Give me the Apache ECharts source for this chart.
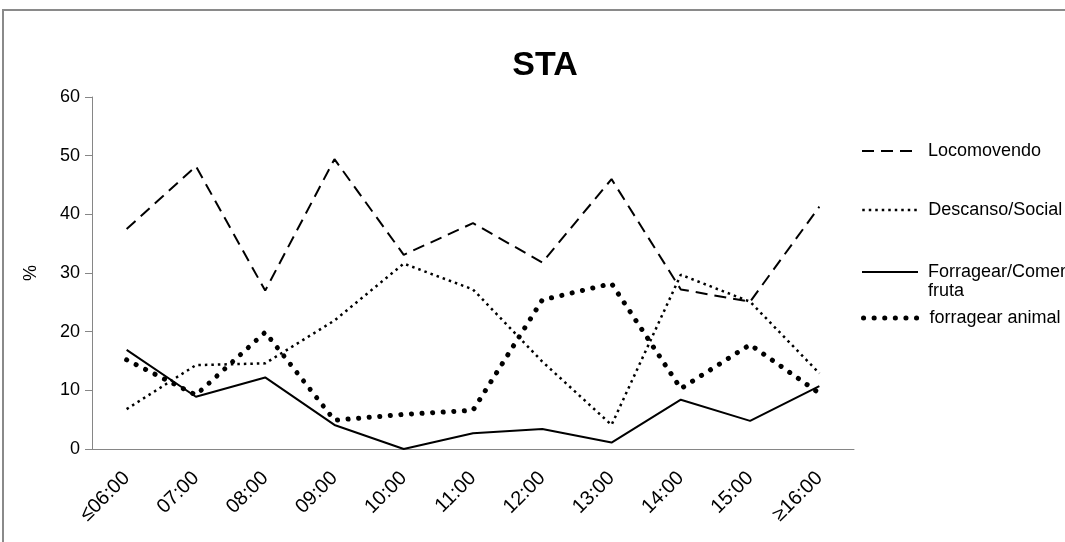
<!DOCTYPE html>
<html>
<head>
<meta charset="utf-8">
<script src="https://cdn.jsdelivr.net/npm/echarts@6/dist/echarts.min.js"></script>
<style>
    html, body { margin: 0; padding: 0; background: #fff; }
    #chart { width: 1065px; height: 542px; }
</style>
</head>
<body>
<div id="chart"></div>
<script>
    'use strict';
    // horas do dia
    var hours = ['≤06:00', '07:00', '08:00', '09:00', '10:00', '11:00', '12:00', '13:00', '14:00', '15:00', '≥16:00'];
    var yTicks = [0, 10, 20, 30, 40, 50, 60];

    var seriesNames = ['Locomovendo', 'Descanso/Social', 'Forragear/Comer fruta', 'forragear animal'];
    var locomovendo = [37.5, 48.2, 27.0, 49.4, 33.1, 38.5, 31.8, 46.0, 27.2, 25.1, 41.3];
    var descanso = [6.8, 14.3, 14.6, 21.9, 31.6, 27.2, 14.9, 4.1, 29.7, 25.1, 12.9];
    var fruta = [16.9, 8.9, 12.2, 4.1, 0, 2.7, 3.4, 1.1, 8.4, 4.8, 10.7];
    var animal = [15.2, 9.2, 19.9, 4.9, 5.9, 6.6, 25.4, 28.2, 10.3, 17.8, 9.5];

    var FONT = "'Liberation Sans Narrow', 'Liberation Sans', sans-serif";
    var GREY = '#868686';

    // estilos das linhas
    var styles = [
        { color: '#000', width: 2, type: [12, 7] },
        { color: '#000', width: 2.5, type: [2.5, 4] },
        { color: '#000', width: 2, type: 'solid' },
        { color: '#000', width: 5, type: [0.1, 10.5], cap: 'round' }
    ];

    var _makeLine = function (idx, data) {
        return {
            name: seriesNames[idx],
            type: 'line',
            data: data,
            symbol: 'none',
            showSymbol: false,
            silent: true,
            animation: false,
            itemStyle: { color: '#000' },
            lineStyle: styles[idx]
        };
    };

    var _makeLegend = function (idx, top, formatter) {
        var lg = {
            data: [seriesNames[idx]],
            left: 856,
            top: top,
            orient: 'vertical',
            itemWidth: 56,
            itemHeight: 14,
            itemGap: 0,
            selectedMode: false,
            itemStyle: { opacity: 0 },
            lineStyle: styles[idx],
            textStyle: { fontFamily: FONT, fontSize: 18, color: '#000', lineHeight: 20, padding: [0, 0, 0, 5] }
        };
        if (formatter) {
            lg.formatter = formatter;
        }
        return lg;
    };

    var chart = echarts.init(document.getElementById('chart'));
    chart.setOption({
        animation: false,
        title: {
            text: 'STA',
            left: 540,
            textAlign: 'center',
            top: 44,
            textStyle: { fontFamily: FONT, fontSize: 34, fontWeight: 'bold', color: '#000' }
        },
        legend: [
            _makeLegend(0, 136),
            _makeLegend(1, 195),
            _makeLegend(2, 257, 'Forragear/Comer'),
            _makeLegend(3, 303)
        ],
        graphic: [{
            type: 'rect',
            shape: { x: 3, y: 10, width: 1200, height: 700 },
            style: { fill: 'none', stroke: '#8a8a8a', lineWidth: 2 },
            silent: true
        }, {
            // segunda linha da legenda "Forragear/Comer fruta"
            type: 'text',
            left: 928,
            top: 282,
            silent: true,
            style: { text: 'fruta', fontFamily: FONT, fontSize: 18, fill: '#000' }
        }],
        grid: { left: 92, right: 211, top: 97, bottom: 93, containLabel: false },
        xAxis: {
            type: 'category',
            data: hours,
            boundaryGap: true,
            axisLine: { lineStyle: { color: GREY, width: 1 } },
            axisTick: { length: 7, lineStyle: { color: GREY } },
            axisLabel: { rotate: 45, margin: 26, fontFamily: FONT, fontSize: 20, color: '#000', interval: 0 }
        },
        yAxis: {
            type: 'value',
            min: yTicks[0],
            max: yTicks[yTicks.length - 1],
            interval: 10,
            name: '%',
            nameLocation: 'middle',
            nameRotate: 90,
            nameGap: 52,
            nameTextStyle: { fontFamily: FONT, fontSize: 18, color: '#000' },
            axisLine: { show: true, lineStyle: { color: GREY, width: 1 } },
            axisTick: { show: true, length: 7, lineStyle: { color: GREY } },
            splitLine: { show: false },
            axisLabel: { margin: 12, fontFamily: FONT, fontSize: 18, color: '#000' }
        },
        series: [
            _makeLine(0, locomovendo),
            _makeLine(1, descanso),
            _makeLine(2, fruta),
            _makeLine(3, animal)
        ]
    });
</script>
</body>
</html>
